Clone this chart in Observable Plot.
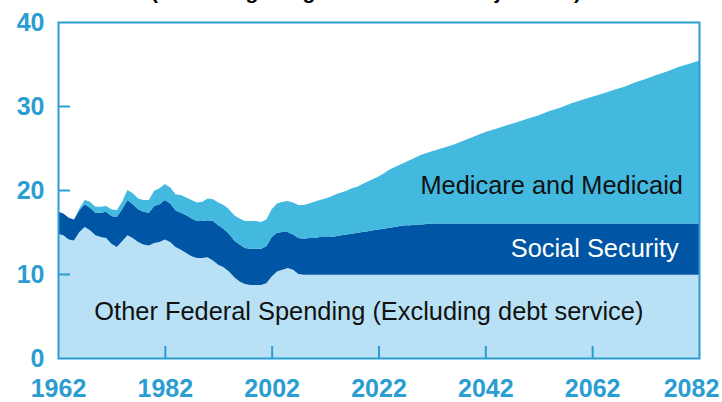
<!DOCTYPE html>
<html><head><meta charset="utf-8">
<script src="https://cdn.jsdelivr.net/npm/d3@7"></script>
<script src="https://cdn.jsdelivr.net/npm/@observablehq/plot@0.6"></script>
<style>
body{margin:0;background:#fff;font-family:"Liberation Sans",Arial,sans-serif;}
#wrap{position:relative;width:722px;height:402px;overflow:hidden;background:#fff;}
#chart{position:absolute;left:0;top:0;}
#title{position:absolute;left:0;top:0;width:732px;height:6px;overflow:hidden;text-align:center;}
#title span{display:block;font-weight:bold;font-size:21px;line-height:21px;margin-top:-19px;color:#000;white-space:nowrap;}
</style></head><body>
<div id="wrap"><div id="chart"></div><div id="title"><span>(Excluding Long-Term Interest Projections)</span></div></div>
<script>
const years = [
  1962,1963,1964,1965,1966,1967,1968,1969,1970,1971,
  1972,1973,1974,1975,1976,1977,1978,1979,1980,1981,
  1982,1983,1984,1985,1986,1987,1988,1989,1990,1991,
  1992,1993,1994,1995,1996,1997,1998,1999,2000,2001,
  2002,2003,2004,2005,2006,2007,2008,2009,2010,2011,
  2012,2013,2014,2015,2016,2017,2018,2019,2020,2021,
  2022,2023,2024,2025,2026,2027,2028,2029,2030,
  2032,2034,2036,2038,2040,2042,2044,2046,2048,2050,
  2052,2054,2056,2058,2060,2062,2064,2066,2068,2070,
  2072,2074,2076,2078,2080,2082
];
const otherSpending = [
  14.8,14.6,14.1,14.0,15.0,15.6,15.2,14.6,14.4,14.3,
  13.6,13.2,13.9,14.6,14.3,13.8,13.5,13.4,13.7,13.8,
  14.1,13.8,13.2,12.9,12.5,12.1,11.9,11.9,12.0,11.6,
  11.1,10.8,10.3,9.6,9.1,8.8,8.7,8.7,8.7,8.9,
  9.7,10.3,10.5,10.7,10.5,10.0,9.9,9.9,9.9,9.9,
  9.9,9.9,9.9,9.9,9.9,9.9,9.9,9.9,9.9,9.9,
  9.9,9.9,9.9,9.9,9.9,9.9,9.9,9.9,9.9,
  9.9,9.9,9.9,9.9,9.9,9.9,9.9,9.9,9.9,9.9,
  9.9,9.9,9.9,9.9,9.9,9.9,9.9,9.9,9.9,9.9,
  9.9,9.9,9.9,9.9,9.9,9.9
];
const socialSecurity = [
  2.6,2.6,2.6,2.5,2.6,2.7,2.7,2.7,2.9,3.1,
  3.3,3.6,3.8,4.2,4.0,3.9,3.9,3.9,4.4,4.5,
  4.7,4.6,4.4,4.4,4.5,4.5,4.4,4.4,4.4,4.7,
  4.7,4.6,4.5,4.4,4.4,4.3,4.3,4.3,4.3,4.4,
  4.7,4.6,4.5,4.3,4.2,4.3,4.3,4.4,4.4,4.5,
  4.5,4.5,4.6,4.7,4.8,4.9,5.0,5.1,5.2,5.3,
  5.4,5.5,5.6,5.7,5.8,5.9,5.9,6.0,6.0,
  6.1,6.1,6.1,6.1,6.1,6.1,6.1,6.1,6.1,6.1,
  6.1,6.1,6.1,6.1,6.1,6.1,6.1,6.1,6.1,6.1,
  6.1,6.1,6.1,6.1,6.1,6.1
];
const medicareMedicaid = [
  0,0,0,0,0.2,0.5,0.7,0.7,0.7,0.7,
  0.8,0.8,0.9,1.2,1.3,1.3,1.4,1.5,1.8,1.9,
  1.9,1.9,1.9,2.1,2.1,2.2,2.2,2.3,2.6,2.6,
  2.7,2.8,2.9,3.0,3.1,3.2,3.3,3.3,3.2,3.2,
  3.3,3.5,3.6,3.7,3.8,3.9,4.0,4.1,4.3,4.4,
  4.6,4.8,5.0,5.1,5.2,5.4,5.5,5.7,5.9,6.1,
  6.3,6.6,6.9,7.1,7.3,7.5,7.8,8.0,8.3,
  8.6,9.0,9.4,9.9,10.4,10.9,11.3,11.7,12.1,12.5,
  12.9,13.4,13.8,14.3,14.7,15.1,15.5,15.9,16.3,16.8,
  17.2,17.7,18.1,18.6,19.0,19.4
];
const seriesNames = ["Other Federal Spending (Excluding debt service)", "Social Security", "Medicare and Medicaid"];
const xTickLabels = [1962, 1982, 2002, 2022, 2042, 2062];
const xLastTickLabel = [2082];
const yTickLabels = [0, 10, 20, 30, 40];
const innerXTicks = [1982, 2002, 2022, 2042, 2062];
const innerYTicks = [10, 20, 30];

const rows = [];
years.forEach((yr, i) => {
  rows.push({year: yr, series: seriesNames[0], value: otherSpending[i]});
  rows.push({year: yr, series: seriesNames[1], value: socialSecurity[i]});
  rows.push({year: yr, series: seriesNames[2], value: medicareMedicaid[i]});
});

const W = 722, H = 402, mL = 58, mR = 23, mT = 22, mB = 44;
const axisColor = "#2a9dd2";
const font = "'Liberation Sans', Arial, sans-serif";
const xAxisStyle = {tickSize: 0, tickPadding: 21, fontSize: 25, fontWeight: "bold", fill: axisColor, tickFormat: d => String(d), label: null};

const chart = Plot.plot({
  width: W, height: H,
  marginLeft: mL, marginRight: mR, marginTop: mT, marginBottom: mB,
  style: {fontFamily: font, background: "transparent", overflow: "visible"},
  x: {domain: [1962, 2082]},
  y: {domain: [0, 40]},
  color: {domain: seriesNames, range: ["#b8e1f5", "#0055a5", "#43b9e0"]},
  marks: [
    Plot.areaY(rows, Plot.stackY({order: seriesNames}, {x: "year", y: "value", z: "series", fill: "series", curve: "linear"})),
    Plot.ruleX(innerXTicks, {stroke: axisColor, strokeWidth: 2, insetTop: H - mT - mB - 12}),
    Plot.ruleY(innerYTicks, {stroke: axisColor, strokeWidth: 2, insetRight: W - mL - mR - 12}),
    Plot.frame({stroke: axisColor, strokeWidth: 2}),
    Plot.axisX(xTickLabels, xAxisStyle),
    Plot.axisX(xLastTickLabel, {...xAxisStyle, dx: -8}),
    Plot.axisY(yTickLabels, {tickSize: 0, tickPadding: 14, fontSize: 25, fontWeight: "bold", fill: axisColor, label: null}),
    Plot.text([seriesNames[2]], {x: 2078.9, y: 20.5, text: d => d, textAnchor: "end", fontSize: 25.4, fill: "#111"}),
    Plot.text([seriesNames[1]], {x: 2078.1, y: 13.0, text: d => d, textAnchor: "end", fontSize: 25.4, fill: "#fff"}),
    Plot.text([seriesNames[0]], {x: 2020.1, y: 5.5, text: d => d, textAnchor: "middle", fontSize: 25.4, fill: "#111"})
  ]
});
document.getElementById("chart").appendChild(chart);
</script>
</body></html>
